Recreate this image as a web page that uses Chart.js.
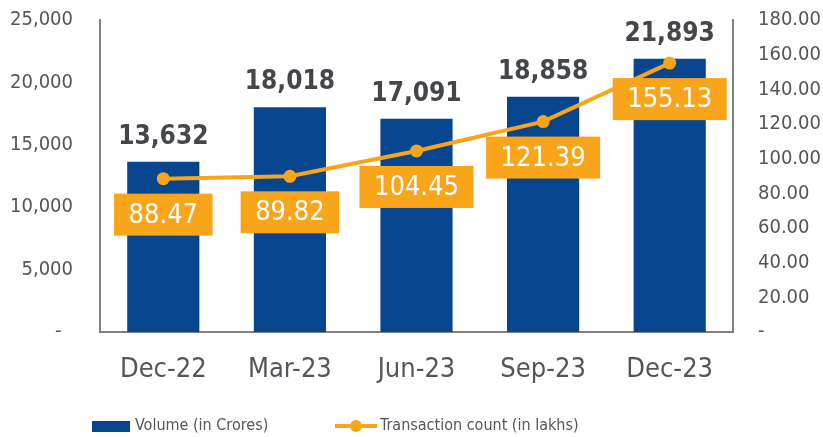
<!DOCTYPE html>
<html>
<head>
<meta charset="utf-8">
<script src="https://cdn.jsdelivr.net/npm/chart.js@4/dist/chart.umd.min.js"></script>
<style>
  html, body { margin: 0; padding: 0; background: #ffffff; }
  #wrap { width: 823px; height: 437px; position: relative; }
</style>
</head>
<body>
<div id="wrap"><canvas id="c" width="823" height="437"></canvas></div>
<script>
// Quarterly figures
const categories = ['Dec-22', 'Mar-23', 'Jun-23', 'Sep-23', 'Dec-23'];
const volumeCrores = [13632, 18018, 17091, 18858, 21893];
const txnCountLakhs = [88.47, 89.82, 104.45, 121.39, 155.13];
const volumeLabel = 'Volume (in Crores)';
const countLabel = 'Transaction count (in lakhs)';

const FONT = '"DejaVu Sans Condensed", "DejaVu Sans", sans-serif';
const BLUE = '#07468F';
const ORANGE = '#F8A51B';
const TEXT = '#43464A';
const AXIS_TEXT = '#53565A';
const AXIS_LINE = '#808080';

// Value labels above bars, boxed labels under line points, and the legend
const annotate = {
  id: 'annotate',
  afterDatasetsDraw(chart) {
    const ctx = chart.ctx;
    ctx.save();

    // bar totals
    const barMeta = chart.getDatasetMeta(0);
    ctx.font = 'bold 26px ' + FONT;
    ctx.fillStyle = TEXT;
    ctx.textAlign = 'center';
    ctx.textBaseline = 'alphabetic';
    barMeta.data.forEach((bar, i) => {
      ctx.fillText(volumeCrores[i].toLocaleString('en-US'), bar.x, bar.y - 18);
    });

    // boxed count labels
    const lineMeta = chart.getDatasetMeta(1);
    ctx.font = '27px ' + FONT;
    lineMeta.data.forEach((pt, i) => {
      const txt = txnCountLakhs[i].toFixed(2);
      const w = ctx.measureText(txt).width + 29;
      const h = 42;
      const top = pt.y + 15;
      ctx.fillStyle = ORANGE;
      ctx.fillRect(pt.x - w / 2, top, w, h);
      ctx.fillStyle = '#ffffff';
      ctx.textBaseline = 'middle';
      ctx.fillText(txt, pt.x, top + h / 2 + 1);
    });

    // legend
    const ly = 426;
    ctx.fillStyle = BLUE;
    ctx.fillRect(92, 421, 38, 11);
    ctx.font = '16px ' + FONT;
    ctx.fillStyle = AXIS_TEXT;
    ctx.textAlign = 'left';
    ctx.textBaseline = 'middle';
    ctx.fillText(volumeLabel, 135, ly);

    ctx.strokeStyle = ORANGE;
    ctx.lineWidth = 4;
    ctx.beginPath();
    ctx.moveTo(335, ly);
    ctx.lineTo(377, ly);
    ctx.stroke();
    ctx.fillStyle = ORANGE;
    ctx.beginPath();
    ctx.arc(356, ly, 6, 0, Math.PI * 2);
    ctx.fill();
    ctx.fillStyle = AXIS_TEXT;
    ctx.fillText(countLabel, 380, ly);

    ctx.restore();
  }
};

// fixed axis sizes so the plot area sits at a known place
function fixVertical(width) {
  return scale => {
    scale.width = width;
    scale.paddingTop = 0;
    scale.paddingBottom = 0;
  };
}

new Chart(document.getElementById('c'), {
  type: 'bar',
  data: {
    labels: categories,
    datasets: [
      {
        type: 'bar',
        label: volumeLabel,
        data: volumeCrores,
        backgroundColor: BLUE,
        barPercentage: 0.57,
        categoryPercentage: 1.0,
        yAxisID: 'y',
        order: 2
      },
      {
        type: 'line',
        label: countLabel,
        data: txnCountLakhs,
        borderColor: ORANGE,
        backgroundColor: ORANGE,
        borderWidth: 4,
        pointRadius: 6.5,
        pointHoverRadius: 6.5,
        pointBackgroundColor: ORANGE,
        pointBorderWidth: 0,
        tension: 0,
        yAxisID: 'y1',
        order: 1
      }
    ]
  },
  options: {
    responsive: false,
    animation: false,
    events: [],
    layout: { padding: { top: 20, bottom: 45, left: 0, right: 0 } },
    plugins: {
      legend: { display: false },
      tooltip: { enabled: false }
    },
    scales: {
      x: {
        grid: { display: false, drawTicks: false },
        border: { display: true, color: AXIS_LINE, width: 2 },
        ticks: { color: AXIS_TEXT, font: { family: FONT, size: 27 }, padding: 22 },
        afterFit(scale) {
          scale.height = 60;
          scale.paddingLeft = 0;
          scale.paddingRight = 0;
        }
      },
      y: {
        position: 'left',
        min: 0,
        max: 25000,
        grid: { display: false, drawTicks: false },
        border: { display: true, color: AXIS_LINE, width: 2 },
        ticks: {
          stepSize: 5000,
          color: AXIS_TEXT,
          font: { family: FONT, size: 20 },
          padding: 27,
          callback: v => v === 0 ? '-  ' : v.toLocaleString('en-US')
        },
        afterFit: fixVertical(100)
      },
      y1: {
        position: 'right',
        min: 0,
        max: 180,
        grid: { display: false, drawTicks: false },
        border: { display: true, color: AXIS_LINE, width: 2 },
        ticks: {
          stepSize: 20,
          color: AXIS_TEXT,
          font: { family: FONT, size: 20 },
          padding: 25,
          callback: v => v === 0 ? '-' : v.toFixed(2)
        },
        afterFit: fixVertical(90)
      }
    }
  },
  plugins: [annotate]
});
</script>
</body>
</html>
